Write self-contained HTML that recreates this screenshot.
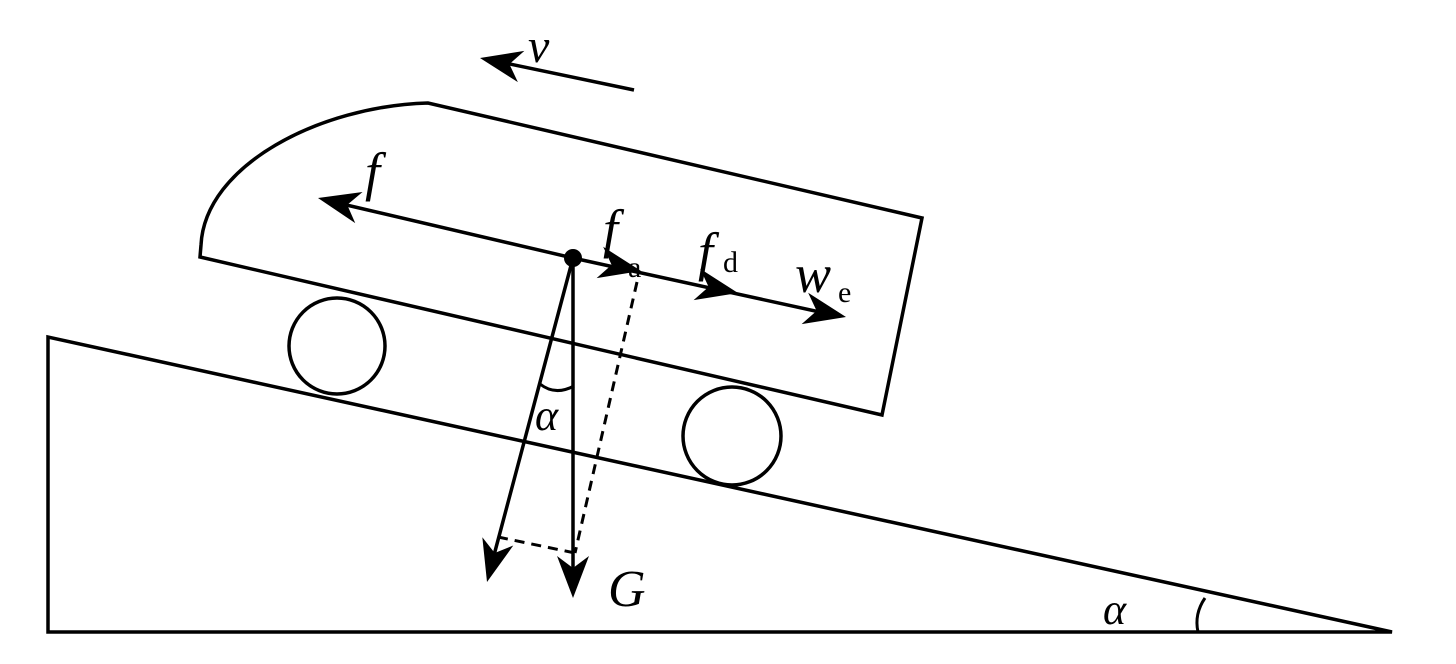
<!DOCTYPE html>
<html><head><style>
html,body{margin:0;padding:0;background:#fff;}
svg{display:block;}
text{font-family:"Liberation Serif",serif;fill:#000;}
</style></head><body>
<svg width="1456" height="664" viewBox="0 0 1456 664">
<defs>
<path id="ah" d="M0,0 L-42,-16 L-30,0 L-42,16 Z" fill="#000"/>
</defs>
<g fill="none" stroke="#000" stroke-width="3.5">
<path d="M48,337 L48,632 L1392,632 Z"/>
<path d="M1198,632 Q1194,614 1205,598" stroke-width="3"/>
<path d="M200,257 L201,245 C205,165 320,106 428,103 L922,218 L882,415 Z"/>
<circle cx="337" cy="346" r="48"/>
<circle cx="732" cy="436" r="49"/>
<line x1="573" y1="258" x2="325" y2="200"/>
<line x1="573" y1="258" x2="838" y2="316"/>
<line x1="634" y1="90" x2="486" y2="59"/>
<line x1="573" y1="258" x2="573" y2="590"/>
<line x1="573" y1="258" x2="489" y2="574"/>
<path d="M637,282 L575,553" stroke-dasharray="10,7" stroke-width="3"/>
<path d="M498,537 L575,553" stroke-dasharray="10,7" stroke-width="3"/>
<path d="M540,384 Q555,396 574,386" stroke-width="3"/>
</g>
<use href="#ah" transform="translate(318,198) rotate(193.2)"/>
<use href="#ah" transform="translate(641,271) rotate(11.8)"/>
<use href="#ah" transform="translate(738,293) rotate(11.8)"/>
<use href="#ah" transform="translate(846,317) rotate(11.8)"/>
<use href="#ah" transform="translate(480,58) rotate(191.7)"/>
<use href="#ah" transform="translate(573,598) rotate(90)"/>
<use href="#ah" transform="translate(487,582) rotate(104.9)"/>
<circle cx="573" cy="258" r="9" fill="#000"/>
<text x="528" y="62" font-size="48" font-style="italic">v</text>
<text x="365" y="190" font-size="54" font-style="italic">f</text>
<text x="603" y="247" font-size="54" font-style="italic">f</text>
<text x="628" y="277" font-size="30">a</text>
<text x="698" y="270" font-size="54" font-style="italic">f</text>
<text x="723" y="272" font-size="30">d</text>
<text x="795" y="292" font-size="54" font-style="italic">w</text>
<text x="838" y="302" font-size="30">e</text>
<text x="535" y="430" font-size="44" font-style="italic">α</text>
<text x="608" y="606" font-size="52" font-style="italic">G</text>
<text x="1103" y="624" font-size="44" font-style="italic">α</text>
</svg>
</body></html>
